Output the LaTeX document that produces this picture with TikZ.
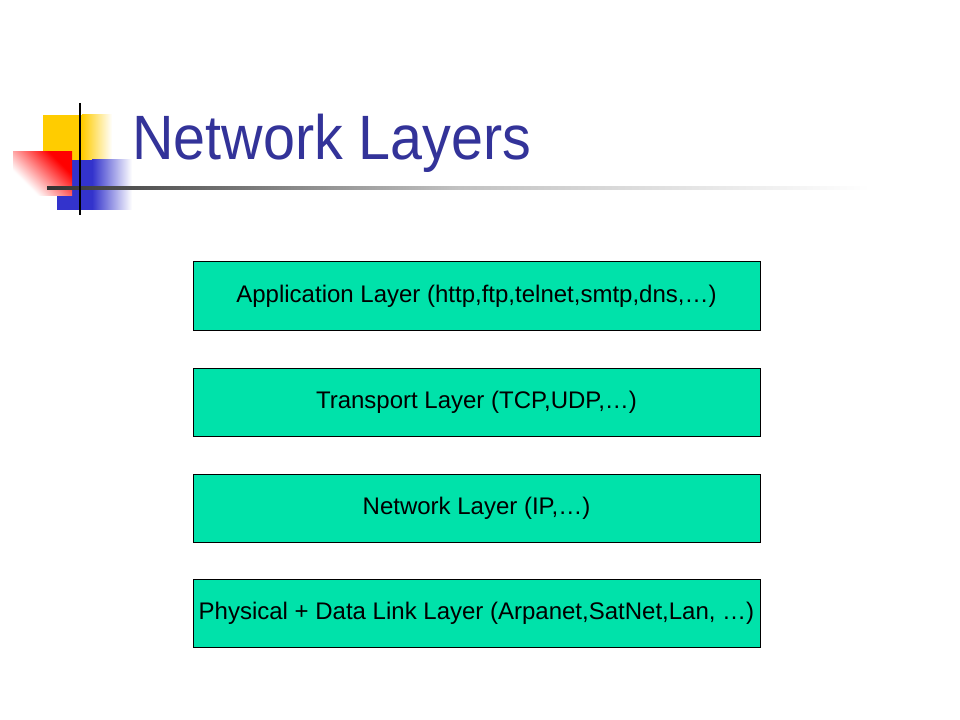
\documentclass[tikz,border=0pt]{standalone}
\usepackage{fontspec}
\setmainfont{Liberation Sans}
\definecolor{boxfill}{RGB}{0,226,170}
\definecolor{titleblue}{RGB}{51,51,153}
\definecolor{decoyellow}{RGB}{255,204,0}
\definecolor{decoblue}{RGB}{51,51,204}
\definecolor{decored}{RGB}{255,0,0}
\definecolor{linegray}{RGB}{51,51,51}
\pgfdeclareverticalshading{redfade}{100bp}{color(0bp)=(white); color(32bp)=(white); color(70bp)=(decored); color(100bp)=(decored)}
\tikzset{
  layerbox/.style={draw=black, line width=0.75pt, fill=boxfill, minimum width=567*0.75pt, minimum height=68*0.75pt, inner sep=0pt, font=\fontsize{18}{21}\selectfont, text=black},
  titletext/.style={anchor=base west, inner sep=0pt, text=titleblue, font=\fontsize{47}{54}\selectfont, xscale=0.917}
}
\begin{document}
\begin{tikzpicture}[x=0.75pt,y=-0.75pt]
\useasboundingbox (0,0) rectangle (960,720);
\fill[white] (0,0) rectangle (960,720);
% decoration
\fill[decoyellow] (43,115) rectangle (82,160);
\shade[left color=decoyellow, right color=white] (82,115) rectangle (112,160);
\fill[decoblue] (57,160) rectangle (92,210);
\shade[left color=decoblue, right color=white] (92,160) rectangle (132,210);
\shade[shading=redfade, shading angle=-45] (13,152) rectangle (72,196);
\shade[left color=linegray, right color=white, middle color=white!70!linegray] (47,186.5) rectangle (870,189.5);
\draw[black, line width=2.2pt] (80,103) -- (80,215);
% title
\node[titletext] (title) at (132,160) {Network Layers};
% layers
\node[layerbox] (app) at (476.5,296) {Application Layer (http,ftp,telnet,smtp,dns,…)};
\node[layerbox] (trans) at (476.5,402) {Transport Layer (TCP,UDP,…)};
\node[layerbox] (net) at (476.5,508) {Network Layer (IP,…)};
\node[layerbox] (phys) at (476.5,613) {Physical + Data Link Layer (Arpanet,SatNet,Lan, …)};
\end{tikzpicture}
\end{document}
